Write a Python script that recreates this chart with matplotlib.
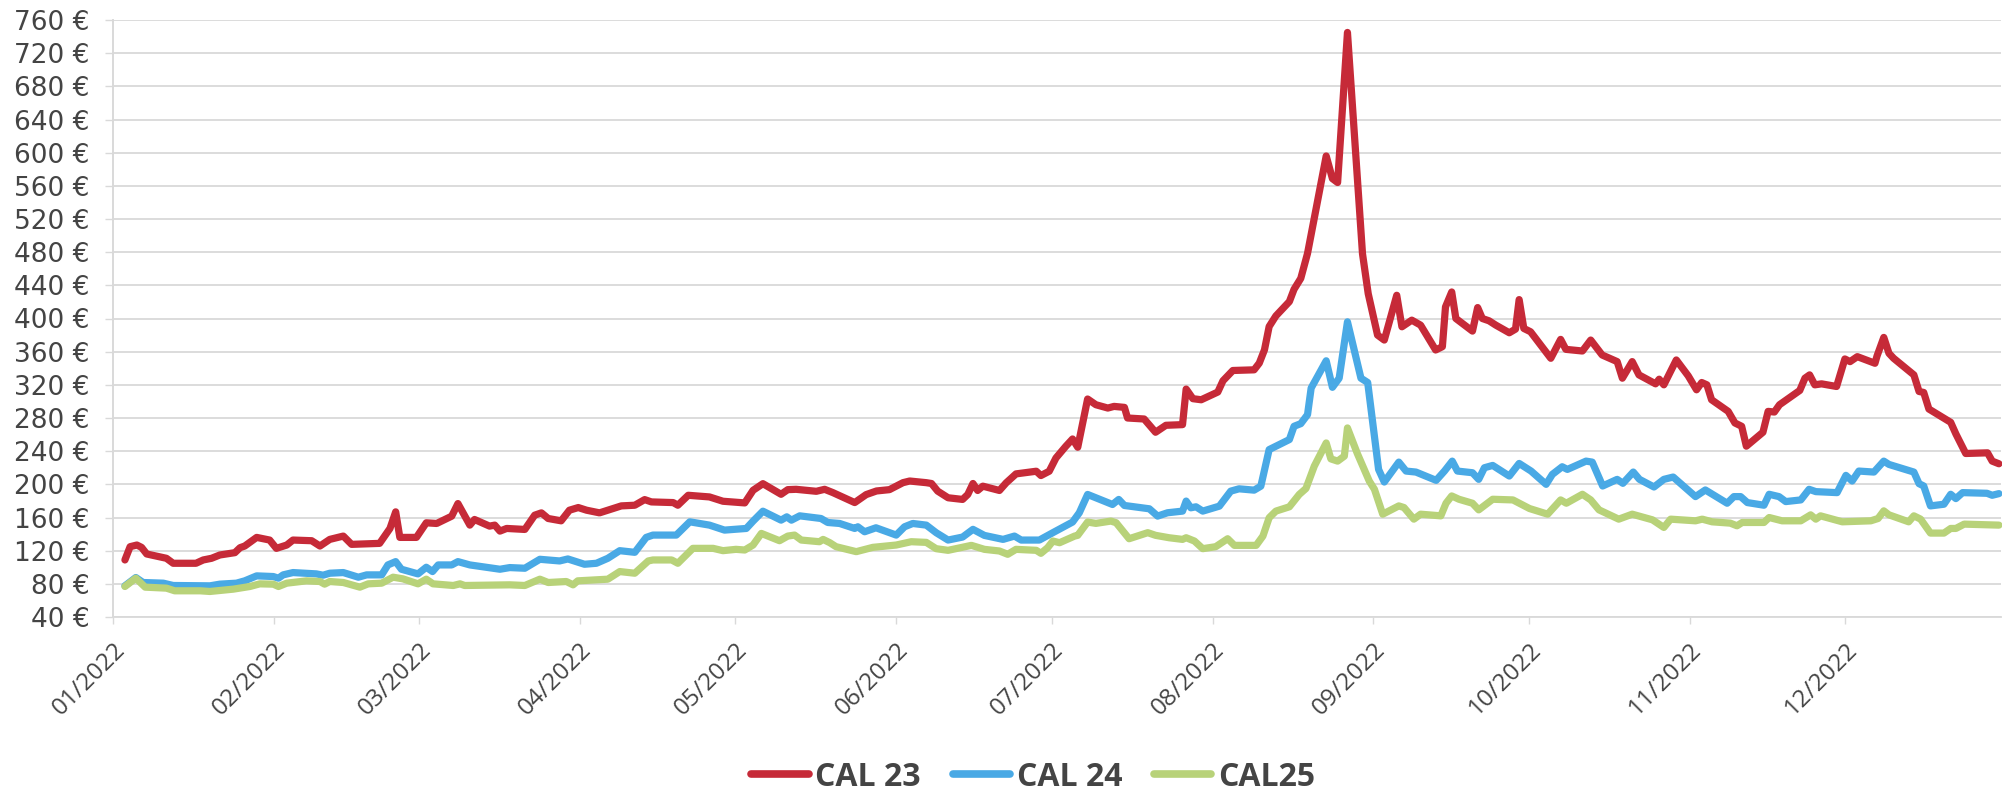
import matplotlib
matplotlib.use("Agg")
import matplotlib.pyplot as plt
from matplotlib.lines import Line2D

# ---- data: day of year 2022 (0 = 1 Jan) and price in EUR/MWh ----
cal23_days = [2.3, 3.3, 4.6, 5.5, 6.5, 10.3, 11.6, 16, 17.4, 19, 20.6, 23.5, 24.5, 25.4, 27.7, 30.2, 31.5,
              33.5, 34.7, 38.3, 39.9, 41.8, 44.4, 46, 51.4, 53.4, 54.5, 55.3, 58.5, 60.4, 62.4, 65.3, 66.5,
              68.8, 69.7, 72.6, 73.6, 74.6, 75.9, 79.4, 81.3, 82.6, 83.9, 86.4, 88, 89.7, 91.3, 93.8, 95.8,
              98, 100.6, 102.5, 103.8, 108, 108.9, 110.9, 115, 117.6, 121.8, 123.4, 125.3, 128.8, 130.1,
              131.7, 135.6, 137.2, 138.8, 143, 145.2, 147.2, 149.7, 152.3, 153.6, 156.8, 157.8, 159, 161,
              163.8, 164.8, 165.8, 166.7, 167.7, 170.9, 172.2, 174.1, 178, 178.9, 180.5, 181.8, 183.7, 185,
              186, 187.9, 189.5, 191.8, 193, 195, 195.6, 198.8, 201, 203, 206.2, 206.9, 208.2, 209.8, 213,
              214, 215.9, 220, 221, 222, 222.9, 224.2, 226.8, 227.7, 229, 230.3, 233.9, 235.1, 236.1, 238.0,
              240.9, 242.0, 243.8, 245.1, 247.5, 248.5, 250.4, 252.1, 255.0, 256.3, 256.9, 258.1, 258.9,
              262.1, 263.1, 264.0, 265.3, 266.6, 269.2, 270.4, 271.1, 272.0, 273.3, 277.2, 279.1, 280.1,
              283.3, 284.9, 287.1, 290.0, 291.0, 292.9, 294.2, 297.4, 298.1, 299.0, 301.4, 303.7, 305.3,
              306.3, 307.3, 308.2, 311.4, 312.7, 314.0, 314.9, 318.1, 319.1, 320.3, 321.3, 325.2, 326.2,
              327.1, 328.1, 329.4, 332.3, 333.9, 334.9, 336.3, 339.7, 340.1, 341.4, 342.4, 343.3, 347.2,
              348.2, 349.1, 350.1, 354.3, 355.3, 357.2, 361.4, 362.3, 363.6]
cal23_vals = [108.8, 124.8, 126.8, 124, 116, 110.8, 104.8, 104.8, 108.8, 110.8, 114.8, 117.6, 123.6, 125.6,
              136, 132.8, 122.8, 126.8, 132.8, 132, 125.6, 133.6, 137.6, 127.6, 128.8, 146.8, 166.8, 136,
              136, 153.6, 152.8, 161.6, 176.8, 150.8, 157.6, 149.6, 150.8, 143.6, 146.8, 145.6, 162.8, 165.6,
              158.8, 156, 168.8, 172, 168.8, 165.6, 169.6, 174, 174.8, 181.6, 178.8, 178, 174.8, 186.8,
              184.8, 179.6, 177.6, 192.8, 200.8, 188, 193.6, 194, 191.6, 194, 190, 178, 187.6, 192, 193.6,
              202, 204, 202, 201, 191.8, 183.8, 181.8, 187.8, 201, 192.6, 197.8, 192.6, 201.8, 212.6, 215.8,
              210.6, 215.8, 231.8, 245.9, 254.7, 244.7, 302.9, 296, 292, 294, 292.8, 280, 278.8, 262.8,
              271.2, 272, 314.9, 303.3, 302, 311.3, 324.9, 337.3, 338.1, 346.2, 362.2, 390.3, 403.1, 420.4,
              435.2, 448.4, 478.5, 596, 568.7, 564, 745, 478, 430, 380, 374, 428, 390, 398, 392, 362, 366,
              414, 432, 400, 384.8, 413.2, 400, 397.2, 392, 382.8, 387.2, 422.8, 388, 384, 352, 374.8, 362.8,
              360.8, 374, 356, 348, 328, 348, 332, 321.2, 326.8, 320, 350, 330.8, 314, 322.8, 320, 302, 288,
              274, 270, 246, 262.8, 288, 287.2, 296, 313.2, 328, 332, 320, 321.2, 318, 351.2, 348, 354, 346,
              354.8, 377.2, 358, 352, 332, 312, 310.8, 290.8, 274.8, 260.8, 237.2, 238, 228, 224.8]

cal24_days = [2.3, 4.4, 5.8, 9.7, 11.6, 18.7, 20.6, 23.8, 25.4, 27.7, 30.9, 31.9, 32.8, 34.7, 39.2, 40.5,
              41.8, 44.4, 47.3, 48.9, 51.8, 53.0, 54.5, 55.6, 58.8, 60.4, 61.6, 62.7, 65.3, 66.5, 68.8, 74.6,
              76.5, 79.4, 82.3, 86.1, 87.7, 90.9, 93.2, 95.4, 97.7, 100.6, 102.8, 104.1, 108.6, 111.2, 115.0,
              117.9, 122.1, 123.4, 125.3, 128.8, 129.9, 130.8, 132.4, 136.5, 137.8, 140.1, 143.0, 143.6,
              144.9, 147.1, 151.0, 152.6, 154.2, 156.8, 158.7, 161.0, 163.8, 165.8, 168.0, 171.6, 173.8,
              175.1, 178.6, 181.2, 185.0, 186.3, 187.9, 192.7, 193.9, 195.0, 199.8, 201.4, 203.3, 206.2,
              206.9, 207.8, 208.8, 210.1, 213.3, 215.5, 217.1, 220.0, 221.3, 222.9, 226.8, 227.7, 229.0,
              230.3, 231.0, 233.9, 235.1, 236.4, 238.0, 240.6, 241.9, 244.0, 245.1, 247.9, 249.3, 251.2,
              255.1, 256.7, 258.2, 259.2, 262.1, 263.3, 264.4, 266.0, 269.2, 271.1, 273.4, 276.3, 277.5,
              279.4, 280.4, 284.0, 285.2, 287.2, 290.0, 291.1, 293.1, 294.3, 297.1, 299.0, 300.8, 305.1,
              307.0, 311.2, 312.5, 313.8, 315.1, 318.3, 319.3, 321.2, 322.5, 325.4, 327.0, 328.3, 332.4,
              334.1, 335.3, 336.6, 339.5, 341.4, 342.4, 347.2, 348.2, 349.1, 350.4, 353.0, 354.3, 355.3,
              356.6, 361.3, 362.3, 363.6]
cal24_vals = [77.6, 87.6, 81.6, 80.8, 78, 77.6, 79.6, 80.8, 83.6, 89.6, 88.8, 86.8, 90.8, 93.6, 92, 90.4,
              92.8, 93.6, 88, 90.8, 90.8, 102.8, 106.8, 97.6, 92, 100, 94.8, 102.8, 102.8, 106.8, 102.8, 97.6,
              99.6, 98.8, 109.6, 107.6, 110, 103.6, 104.8, 110.8, 120, 118, 136, 138.8, 138.8, 154.8, 150.8,
              144.8, 146.8, 155.6, 167.6, 156.8, 160.8, 156.8, 162, 158.8, 154, 152.8, 146.8, 148.8, 142.8,
              147.6, 138.8, 148.8, 152.8, 150.8, 141.7, 132.8, 136.4, 145.7, 138.4, 133.6, 137.6, 132.8,
              132.8, 141.7, 154.5, 165.7, 187.8, 175.7, 181.8, 174.5, 170.5, 161.7, 165.7, 167.7, 179.8,
              171.7, 172.9, 167.7, 173.7, 191.8, 194.6, 193, 197.8, 241.9, 254, 270, 273.2, 284, 316.1, 349,
              317, 328, 396, 328, 322.8, 218, 202.8, 226.8, 216, 214.8, 204.8, 216, 228, 216, 214, 206, 220,
              222.8, 210, 225.2, 216, 200, 212, 221.2, 218, 228, 226.8, 198, 206, 201.2, 214.8, 206, 196.8,
              206, 208.8, 185.2, 193.2, 177.2, 185.2, 185.2, 178, 174.8, 188, 185.2, 179.2, 181.2, 194, 191.2,
              190, 210.8, 204, 216, 214.8, 228, 224, 214.8, 200.8, 198, 174, 176, 188, 182.8, 190, 189.2,
              186.8, 188.8]

cal25_days = [2.3, 4.4, 6.2, 10.3, 11.9, 16.8, 18.7, 23.2, 26.4, 28.3, 30.9, 31.9, 33.5, 37.3, 39.9, 40.8,
              41.8, 44.4, 47.6, 49.2, 51.8, 54.0, 55.9, 58.8, 60.4, 61.7, 65.6, 66.9, 67.8, 76.5, 79.4, 82.3,
              83.9, 87.4, 88.7, 89.6, 95.4, 97.7, 100.6, 103.2, 104.1, 107.7, 108.9, 111.8, 115.7, 117.6,
              120.1, 121.8, 123.4, 125.0, 128.5, 130.1, 131.4, 132.7, 136.2, 136.9, 138.2, 139.4, 143.3,
              146.5, 151.0, 153.9, 156.8, 158.7, 161.0, 165.5, 168.0, 170.9, 172.5, 174.1, 178.0, 178.9,
              180.2, 181.2, 182.5, 185.4, 186.0, 187.9, 189.5, 192.4, 193.4, 195.9, 199.5, 201.0, 203.6,
              206.2, 206.9, 208.5, 210.1, 212.6, 214.9, 216.2, 220.4, 221.7, 222.9, 224.2, 226.8, 228.7,
              230.0, 231.6, 233.9, 234.8, 236.1, 237.4, 238.0, 239.9, 242.2, 243.2, 244.8, 247.9, 248.9,
              250.8, 252.1, 256.0, 257.0, 258.1, 259.5, 262.1, 263.3, 266.0, 269.9, 273.1, 276.6, 279.1,
              280.2, 283.3, 284.9, 286.5, 290.3, 292.9, 296.8, 299.0, 300.3, 305.1, 306.4, 308.3, 311.8,
              313.1, 314.1, 318.3, 319.3, 321.8, 325.4, 327.3, 328.3, 329.2, 333.4, 338.9, 340.3, 341.4,
              342.4, 346.2, 347.2, 348.5, 350.4, 353.0, 354.3, 355.3, 356.9, 363.6]
cal25_vals = [76.8, 86.8, 76, 74.8, 71.6, 71.6, 70.8, 73.6, 76.8, 80, 79.6, 76.8, 80.8, 83.6, 82.8, 79.6,
              82.8, 81.6, 76, 80, 80.8, 88, 86, 80, 85.6, 80, 78, 80, 78, 78.8, 78, 85.6, 81.6, 82.8, 78.8,
              83.6, 85.6, 94.8, 92.8, 107.6, 108.8, 108.8, 104.8, 122.8, 122.8, 120, 121.6, 120.8, 126.8,
              140.8, 132, 137.6, 138.8, 132.8, 130.8, 133.6, 129.6, 124.8, 118.8, 124, 126.8, 130.8, 130,
              122.4, 120.4, 126.4, 121.6, 119.6, 115.6, 121.6, 120.4, 116.8, 123.6, 131.6, 129.6, 137.6,
              138.5, 154.5, 152.9, 155.7, 153.7, 134.4, 141.7, 138.5, 135.6, 133.6, 135.6, 131.6, 122.4,
              124.8, 134.4, 126.4, 126.4, 137.6, 159.7, 167.7, 172.9, 187.8, 195, 221.9, 249.9, 230.7, 228,
              234, 268, 237.2, 204, 194, 164, 174, 172, 158, 164, 162, 177.2, 186, 182, 177.2, 169.2, 182,
              181.2, 170.8, 164, 181.2, 177.2, 188, 181.2, 169.2, 158, 164, 157.2, 148, 158, 156, 158, 154.8,
              153.2, 150, 154, 154, 160, 156, 156, 163.2, 158, 162, 154.8, 156, 158.8, 168, 163.2, 154.8,
              162, 158, 141.2, 141.2, 146.8, 146.8, 152, 150.8]

series_names = ["CAL 23", "CAL 24", "CAL25"]
month_starts = [0, 31, 59, 90, 120, 151, 181, 212, 243, 273, 304, 334]
month_labels = ["01/2022", "02/2022", "03/2022", "04/2022", "05/2022", "06/2022",
                "07/2022", "08/2022", "09/2022", "10/2022", "11/2022", "12/2022"]
y_ticks = list(range(40, 761, 40))

colors = ["#C62A38", "#49A9E5", "#B8D279"]
grid_c = "#D9D9D9"
text_c = "#444444"

fig = plt.figure(figsize=(20.02, 7.91), dpi=100)
ax = fig.add_axes([113 / 2002, 174 / 791, 1888 / 2002, 597 / 791])

for d, v, c, n in zip([cal23_days, cal24_days, cal25_days],
                      [cal23_vals, cal24_vals, cal25_vals], colors, series_names):
    ax.plot(d, v, color=c, lw=5.2, solid_joinstyle="round", solid_capstyle="round",
            label=n, zorder=3, clip_on=False)

ax.set_xlim(0, 364)
ax.set_ylim(40, 760)
ax.set_yticks(y_ticks)
ax.set_yticklabels([f"{v} €" for v in y_ticks], family="DejaVu Sans", fontsize=19, color=text_c)
ax.set_xticks(month_starts)
ax.set_xticklabels(month_labels, rotation=45, ha="right", va="top", rotation_mode="anchor",
                   family="Open Sans", fontsize=17.5, color=text_c)

ax.grid(axis="y", color=grid_c, lw=1.3, zorder=0)
ax.set_axisbelow(True)
for s in ["top", "right"]:
    ax.spines[s].set_visible(False)
ax.spines["left"].set_color(grid_c)
ax.spines["left"].set_linewidth(1.4)
ax.spines["bottom"].set_color(grid_c)
ax.spines["bottom"].set_linewidth(1.3)
ax.tick_params(axis="y", length=6, width=1, color=grid_c, pad=11)
ax.tick_params(axis="x", length=5, width=1, color=grid_c, pad=10)

handles = [Line2D([0], [0], color=c, lw=5.5, solid_capstyle="round") for c in colors]
leg = fig.legend(handles, series_names, loc="center", bbox_to_anchor=(1033 / 2002, 1 - 777 / 791),
                 ncol=3, frameon=False, handlelength=1.8, handletextpad=0.2, columnspacing=1.0,
                 prop={"family": "Open Sans", "weight": "bold", "size": 23})
for t in leg.get_texts():
    t.set_color(text_c)

fig.savefig("out.png", dpi=100, facecolor="white")
